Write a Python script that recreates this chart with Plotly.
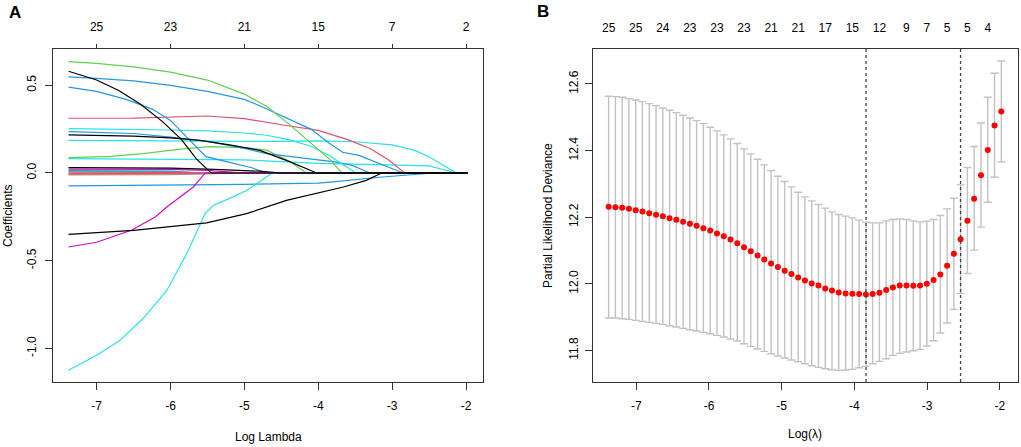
"""LASSO Cox regression: coefficient paths (A) and cross-validated deviance (B)."""
import numpy as np
import plotly.graph_objects as go

# ---- panel A: coefficient paths, (log lambda, coefficient) knots per variable
green_top = [(-7.38, 0.635), (-7.0, 0.625), (-6.5, 0.605), (-6.0, 0.575), (-5.5, 0.53),
             (-5.0, 0.45), (-4.7, 0.38), (-4.4, 0.28), (-4.1, 0.17), (-3.85, 0.08),
             (-3.68, 0.0), (-1.98, 0.0)]
black_top = [(-7.38, 0.58), (-7.0, 0.53), (-6.7, 0.47), (-6.4, 0.39), (-6.1, 0.29),
             (-5.85, 0.19), (-5.65, 0.08), (-5.45, 0.0), (-1.98, 0.0)]
blue_top = [(-7.38, 0.548), (-7.0, 0.54), (-6.5, 0.525), (-6.0, 0.5), (-5.5, 0.465),
            (-5.0, 0.42), (-4.8, 0.385), (-4.4, 0.31), (-4.1, 0.25), (-3.85, 0.17),
            (-3.67, 0.118), (-3.45, 0.1), (-3.2, 0.06), (-2.85, 0.0), (-1.98, 0.0)]
blue_2 = [(-7.38, 0.49), (-7.0, 0.465), (-6.6, 0.42), (-6.24, 0.363), (-6.0, 0.3),
          (-5.79, 0.211), (-5.52, 0.093), (-5.2, 0.06), (-4.9, 0.03), (-4.7, 0.0),
          (-1.98, 0.0)]
red_1 = [(-7.38, 0.312), (-6.5, 0.313), (-5.5, 0.325), (-5.0, 0.31), (-4.5, 0.275),
         (-4.0, 0.243), (-3.6, 0.19), (-3.3, 0.14), (-3.05, 0.075), (-2.83, 0.0),
         (-1.98, 0.0)]
cyan_a = [(-7.38, 0.253), (-6.5, 0.25), (-6.0, 0.245), (-5.5, 0.24), (-5.0, 0.228),
          (-4.7, 0.215), (-4.4, 0.19), (-4.11, 0.154), (-3.85, 0.1), (-3.67, 0.05),
          (-3.49, 0.0), (-1.98, 0.0)]
cyan_long = [(-7.38, 0.186), (-6.0, 0.182), (-5.0, 0.178), (-4.5, 0.18), (-4.0, 0.183),
             (-3.5, 0.178), (-3.0, 0.16), (-2.7, 0.13), (-2.49, 0.09), (-2.3, 0.045),
             (-2.13, 0.0), (-1.98, 0.0)]
black_b = [(-7.38, 0.217), (-6.5, 0.21), (-6.0, 0.2), (-5.6, 0.186), (-5.2, 0.16),
           (-4.79, 0.129), (-4.38, 0.063), (-4.02, 0.0), (-1.98, 0.0)]
blue_3 = [(-7.38, 0.236), (-6.5, 0.225), (-6.0, 0.205), (-5.5, 0.18), (-5.0, 0.14),
          (-4.7, 0.11), (-4.2, 0.085), (-3.8, 0.065), (-3.55, 0.045), (-3.3, 0.0),
          (-1.98, 0.0)]
green_b = [(-7.38, 0.087), (-6.8, 0.095), (-6.37, 0.11), (-5.9, 0.135), (-5.47, 0.15),
           (-5.0, 0.145), (-4.7, 0.13), (-4.4, 0.07), (-4.16, 0.0), (-1.98, 0.0)]
cyan_flat = [(-7.38, 0.082), (-6.0, 0.078), (-5.0, 0.075), (-4.5, 0.065), (-4.0, 0.055),
             (-3.5, 0.05), (-3.0, 0.047), (-2.5, 0.04), (-2.13, 0.0), (-1.98, 0.0)]
cyan_low = [(-7.38, -1.125), (-7.0, -1.04), (-6.7, -0.96), (-6.37, -0.83), (-6.05, -0.67),
            (-5.78, -0.46), (-5.53, -0.23), (-5.42, -0.185), (-5.2, -0.145),
            (-4.97, -0.1), (-4.7, -0.023), (-4.62, 0.0), (-1.98, 0.0)]
magenta_low = [(-7.38, -0.422), (-7.0, -0.395), (-6.53, -0.327), (-6.2, -0.25),
               (-6.05, -0.194), (-5.85, -0.13), (-5.69, -0.08), (-5.53, 0.0), (-1.98, 0.0)]
black_low = [(-7.38, -0.35), (-6.5, -0.327), (-5.51, -0.285), (-4.97, -0.232),
             (-4.43, -0.156), (-3.98, -0.114), (-3.66, -0.08), (-3.35, -0.042),
             (-3.14, 0.0), (-1.98, 0.0)]
blue_neg = [(-7.38, -0.074), (-6.0, -0.07), (-5.0, -0.065), (-4.0, -0.058), (-3.8, -0.051),
            (-3.13, -0.023), (-2.44, 0.0), (-1.98, 0.0)]
# small coefficients hugging zero
gray_z = [(-7.38, -0.011), (-6.0, -0.01), (-5.5, -0.005), (-5.2, 0.0), (-1.98, 0.0)]
red_z3 = [(-7.38, -0.008), (-6.0, -0.006), (-5.4, 0.0), (-1.98, 0.0)]
red_z2 = [(-7.38, -0.004), (-5.5, -0.003), (-5.0, 0.0), (-1.98, 0.0)]
green_z = [(-7.38, 0.009), (-6.0, 0.008), (-5.5, 0.0), (-1.98, 0.0)]
blue_z = [(-7.38, 0.013), (-6.0, 0.01), (-5.6, 0.0), (-1.98, 0.0)]
magenta_z = [(-7.38, 0.022), (-6.0, 0.02), (-5.5, 0.015), (-5.0, 0.0), (-1.98, 0.0)]
red_z = [(-7.38, 0.004), (-5.0, 0.004), (-4.0, 0.003), (-3.6, 0.0), (-1.98, 0.0)]
black_z = [(-7.38, 0.031), (-6.0, 0.028), (-5.4, 0.02), (-4.8, 0.01), (-4.5, 0.0),
           (-1.98, 0.0)]

top_a_vals = [-7, -6, -5, -4, -3, -2]
top_a_text = ["25", "23", "21", "15", "7", "2"]

# ---- panel B: 10-fold CV partial likelihood deviance
log_lam = [-7.380, -7.287, -7.194, -7.101, -7.008, -6.915, -6.821, -6.728, -6.635, -6.542,
           -6.449, -6.356, -6.263, -6.170, -6.077, -5.983, -5.890, -5.797, -5.704, -5.611,
           -5.518, -5.425, -5.332, -5.239, -5.146, -5.052, -4.959, -4.866, -4.773, -4.680,
           -4.587, -4.494, -4.401, -4.308, -4.215, -4.121, -4.028, -3.935, -3.842, -3.749,
           -3.656, -3.563, -3.470, -3.377, -3.284, -3.190, -3.097, -3.004, -2.911, -2.818,
           -2.725, -2.632, -2.539, -2.446, -2.353, -2.259, -2.166, -2.073, -1.980]
cvm = [12.231, 12.230, 12.228, 12.225, 12.221, 12.217, 12.212, 12.207, 12.203, 12.197,
       12.192, 12.186, 12.180, 12.174, 12.167, 12.160, 12.151, 12.143, 12.133, 12.122,
       12.110, 12.098, 12.085, 12.073, 12.061, 12.050, 12.039, 12.029, 12.019, 12.010,
       12.001, 11.995, 11.986, 11.980, 11.974, 11.971, 11.970, 11.969, 11.968, 11.969,
       11.973, 11.981, 11.989, 11.995, 11.995, 11.994, 11.995, 12.000, 12.011, 12.028,
       12.054, 12.090, 12.134, 12.189, 12.255, 12.326, 12.402, 12.475, 12.517]
cvup = [12.563, 12.562, 12.560, 12.556, 12.552, 12.547, 12.541, 12.535, 12.528, 12.521,
        12.514, 12.506, 12.498, 12.490, 12.481, 12.470, 12.459, 12.447, 12.435, 12.421,
        12.405, 12.390, 12.374, 12.357, 12.340, 12.323, 12.307, 12.291, 12.275, 12.261,
        12.249, 12.238, 12.227, 12.216, 12.208, 12.203, 12.198, 12.191, 12.185, 12.183,
        12.183, 12.189, 12.193, 12.195, 12.193, 12.189, 12.186, 12.188, 12.193, 12.205,
        12.225, 12.257, 12.297, 12.349, 12.412, 12.483, 12.560, 12.632, 12.669]
cvlo = [11.897, 11.897, 11.895, 11.893, 11.890, 11.887, 11.884, 11.881, 11.878, 11.874,
        11.870, 11.866, 11.862, 11.858, 11.854, 11.850, 11.845, 11.840, 11.834, 11.828,
        11.820, 11.812, 11.804, 11.797, 11.790, 11.783, 11.777, 11.771, 11.766, 11.760,
        11.754, 11.749, 11.745, 11.742, 11.740, 11.741, 11.743, 11.748, 11.752, 11.760,
        11.767, 11.775, 11.785, 11.791, 11.795, 11.799, 11.803, 11.813, 11.829, 11.852,
        11.882, 11.923, 11.971, 12.031, 12.101, 12.170, 12.245, 12.320, 12.366]
nz_idx = [0, 4, 8, 12, 16, 20, 24, 28, 32, 36, 40, 44, 47, 50, 53, 56]
nz_text = ["25", "25", "24", "23", "23", "23", "21", "21", "17", "15", "12", "9", "7",
           "5", "5", "4"]
lam_min, lam_1se = -3.84, -2.54

x_ticks = [-7, -6, -5, -4, -3, -2]
x_ticktext = ["-7", "-6", "-5", "-4", "-3", "-2"]
ya_ticks = [-1.0, -0.5, 0.0, 0.5]
ya_ticktext = ["-1.0", "-0.5", "0.0", "0.5"]
yb_ticks = [11.8, 12.0, 12.2, 12.4, 12.6]

# R default palette
BLACK, RED, GREEN, BLUE, CYAN, MAGENTA, GRAY = (
    "#000000", "#DF536B", "#61D04F", "#2297E6", "#28E2E5", "#CD0BBC", "#9E9E9E")

PATHS = [(gray_z, GRAY), (red_z3, "#C98A6B"), (red_z2, RED), (green_z, GREEN),
         (blue_z, BLUE), (magenta_z, MAGENTA), (red_z, RED), (blue_neg, BLUE),
         (cyan_flat, CYAN), (green_b, GREEN), (blue_3, BLUE), (cyan_long, CYAN),
         (cyan_a, CYAN), (red_1, RED), (blue_2, BLUE), (blue_top, BLUE),
         (green_top, GREEN), (cyan_low, CYAN), (magenta_low, MAGENTA),
         (black_low, BLACK), (black_b, BLACK), (black_top, BLACK), (black_z, BLACK)]

FONT = "Liberation Sans, Arial, sans-serif"
AX = "#333333"
W, H = 1021, 447
A_X = (53 / W, 483 / W)
B_X = (593 / W, 1018 / W)
P_Y = ((H - 382) / H, (H - 49) / H)

fig = go.Figure()

for pts, col in PATHS:
    arr = np.array(pts)
    fig.add_trace(go.Scatter(x=arr[:, 0], y=arr[:, 1], mode="lines",
                             line=dict(color=col, width=1.2), hoverinfo="skip",
                             xaxis="x", yaxis="y"))
# carrier for panel A's top axis
fig.add_trace(go.Scatter(x=top_a_vals, y=[0] * len(top_a_vals), mode="lines",
                         opacity=0, hoverinfo="skip", xaxis="x3", yaxis="y"))

lam = np.array(log_lam)
m = np.array(cvm)
fig.add_trace(go.Scatter(
    x=lam, y=m, mode="markers", xaxis="x2", yaxis="y2",
    marker=dict(color="#FF0000", size=6, line=dict(width=0)),
    error_y=dict(type="data", symmetric=False, array=np.array(cvup) - m,
                 arrayminus=m - np.array(cvlo), color="#C2C2C2", thickness=1.4,
                 width=4)))
fig.add_trace(go.Scatter(x=lam[nz_idx], y=m[nz_idx], mode="lines", opacity=0,
                         hoverinfo="skip", xaxis="x4", yaxis="y2"))

for xv in (lam_min, lam_1se):
    fig.add_shape(type="line", xref="x2", yref="paper", x0=xv, x1=xv,
                  y0=P_Y[0], y1=P_Y[1], line=dict(color="#444444", width=1.3, dash="dot"))

tickfont = dict(family=FONT, size=12, color="#000000")
common_x = dict(tickmode="array", tickvals=x_ticks, ticktext=x_ticktext, ticks="outside",
                ticklen=7, tickcolor=AX, showline=True, linecolor=AX, mirror=True,
                showgrid=False, zeroline=False, tickfont=tickfont, ticklabelstandoff=6)
common_y = dict(ticks="outside", ticklen=7, tickcolor=AX, showline=True, linecolor=AX,
                mirror=True, showgrid=False, zeroline=False, tickfont=tickfont,
                tickangle=-90, ticklabelstandoff=4)

fig.update_layout(
    width=W, height=H, margin=dict(l=0, r=0, t=0, b=0),
    paper_bgcolor="white", plot_bgcolor="white", showlegend=False,
    font=dict(family=FONT, size=12, color="#000000"),
    xaxis=dict(common_x, domain=A_X, range=[-7.59, -1.77], anchor="y"),
    yaxis=dict(common_y, domain=P_Y, range=[-1.192, 0.707], anchor="x",
               tickmode="array", tickvals=ya_ticks, ticktext=ya_ticktext),
    xaxis3=dict(overlaying="x", side="top", anchor="y", range=[-7.59, -1.77],
                tickmode="array", tickvals=top_a_vals, ticktext=top_a_text,
                ticks="outside", ticklen=4, tickcolor=AX, showgrid=False,
                zeroline=False, showline=False, tickfont=tickfont, ticklabelstandoff=8),
    xaxis2=dict(common_x, domain=B_X, range=[-7.595, -1.75], anchor="y2"),
    yaxis2=dict(common_y, domain=P_Y, range=[11.705, 12.705], anchor="x2",
                tickmode="array", tickvals=yb_ticks, tickformat=".1f",
                ticklabelstandoff=2),
    xaxis4=dict(overlaying="x2", side="top", anchor="y2", range=[-7.595, -1.75],
                tickmode="array", tickvals=list(lam[nz_idx]), ticktext=nz_text,
                ticks="", showgrid=False, zeroline=False, showline=False,
                tickfont=tickfont, ticklabelstandoff=14),
)

ann = [
    dict(text="<b>A</b>", x=15 / W, y=1 - 13 / H, font=dict(size=17)),
    dict(text="<b>B</b>", x=543 / W, y=1 - 12 / H, font=dict(size=17)),
    dict(text="Log Lambda", x=268 / W, y=1 - 437 / H, font=dict(size=12)),
    dict(text="Log(λ)", x=805 / W, y=1 - 434 / H, font=dict(size=12)),
    dict(text="Coefficients", x=8 / W, y=1 - 216 / H, textangle=-90, font=dict(size=12)),
    dict(text="Partial Likelihood Deviance", x=548 / W, y=1 - 216 / H, textangle=-90,
         font=dict(size=12)),
]
for a in ann:
    fig.add_annotation(xref="paper", yref="paper", showarrow=False,
                       xanchor="center", yanchor="middle", **a)

# the page's default 8px body margin would push the fixed-size figure off-canvas
fig.write_html("out.html", config={"displayModeBar": False},
               post_script="document.body.style.margin='0';")
